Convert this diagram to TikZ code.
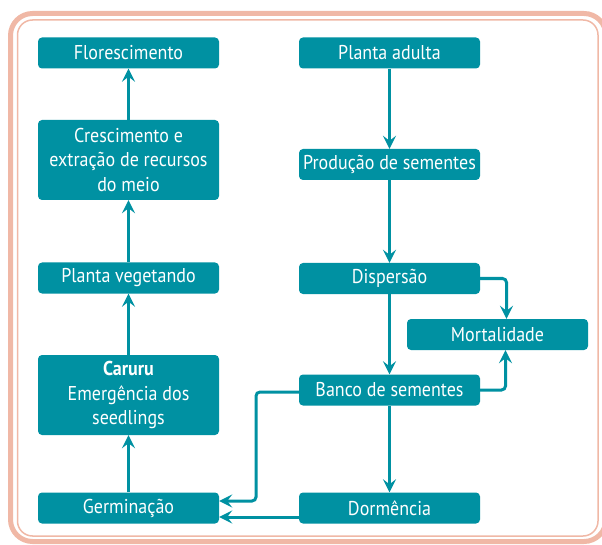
\documentclass[tikz,border=0pt]{standalone}
\usepackage{fontspec}
\setmainfont{PT Sans}[FakeStretch=0.9]
\usetikzlibrary{arrows.meta}
\definecolor{caixa}{RGB}{0,145,162}
\definecolor{moldura}{RGB}{240,184,166}

\begin{document}
\begin{tikzpicture}[x=1pt, y=-1pt,
    box/.style={fill=caixa, rounded corners=4pt, text=white, align=center,
      minimum width=181pt, minimum height=31pt, inner sep=2pt,
      font=\fontsize{20}{24.5}\selectfont},
    arw/.style={-{Stealth[length=13pt,width=13pt,inset=5pt]}, draw=caixa,
      line width=3pt, rounded corners=4pt}]
  \useasboundingbox (0,0) rectangle (602,545);
  % moldura
  \draw[moldura, line width=5pt, rounded corners=22pt] (10.5,13.5) rectangle (606,541.5);
  \draw[moldura, line width=1.5pt, rounded corners=15pt] (17.5,20) rectangle (598,536);
  % coluna da esquerda
  \node[box] (flor) at (128.5,53) {Florescimento};
  \node[box, minimum height=80pt] (cresc) at (128.5,160)
    {Crescimento e\\extração de recursos\\do meio};
  \node[box] (veg) at (128.5,278) {Planta vegetando};
  \node[box, minimum height=80pt] (caruru) at (128.5,395)
    {\textbf{Caruru}\\Emergência dos\\seedlings};
  \node[box] (germ) at (128.5,508) {Germinação};
  % coluna da direita
  \node[box] (adulta) at (389.5,53) {Planta adulta};
  \node[box] (prod) at (389.5,164.5) {Produção de sementes};
  \node[box] (disp) at (389.5,278.5) {Dispersão};
  \node[box] (banco) at (389.5,390) {Banco de sementes};
  \node[box] (dorm) at (389.5,508) {Dormência};
  \node[box] (mort) at (497.5,334.5) {Mortalidade};
  % setas
  \draw[arw] (germ) -- (caruru);
  \draw[arw] (caruru) -- (veg);
  \draw[arw] (veg) -- (cresc);
  \draw[arw] (cresc) -- (flor);
  \draw[arw] (adulta) -- (prod);
  \draw[arw] (prod) -- (disp);
  \draw[arw] (disp) -- (banco);
  \draw[arw] (banco) -- (dorm);
  \draw[arw] (disp.east) -| ([xshift=9pt]mort.north);
  \draw[arw] (banco.east) -| ([xshift=8pt]mort.south);
  \draw[arw] ([yshift=-2pt]banco.west) -| (256,501) -- ([yshift=7pt]germ.east);
  \draw[arw] ([yshift=-9pt]dorm.west) -- ([yshift=-9pt]germ.east);
\end{tikzpicture}
\end{document}
